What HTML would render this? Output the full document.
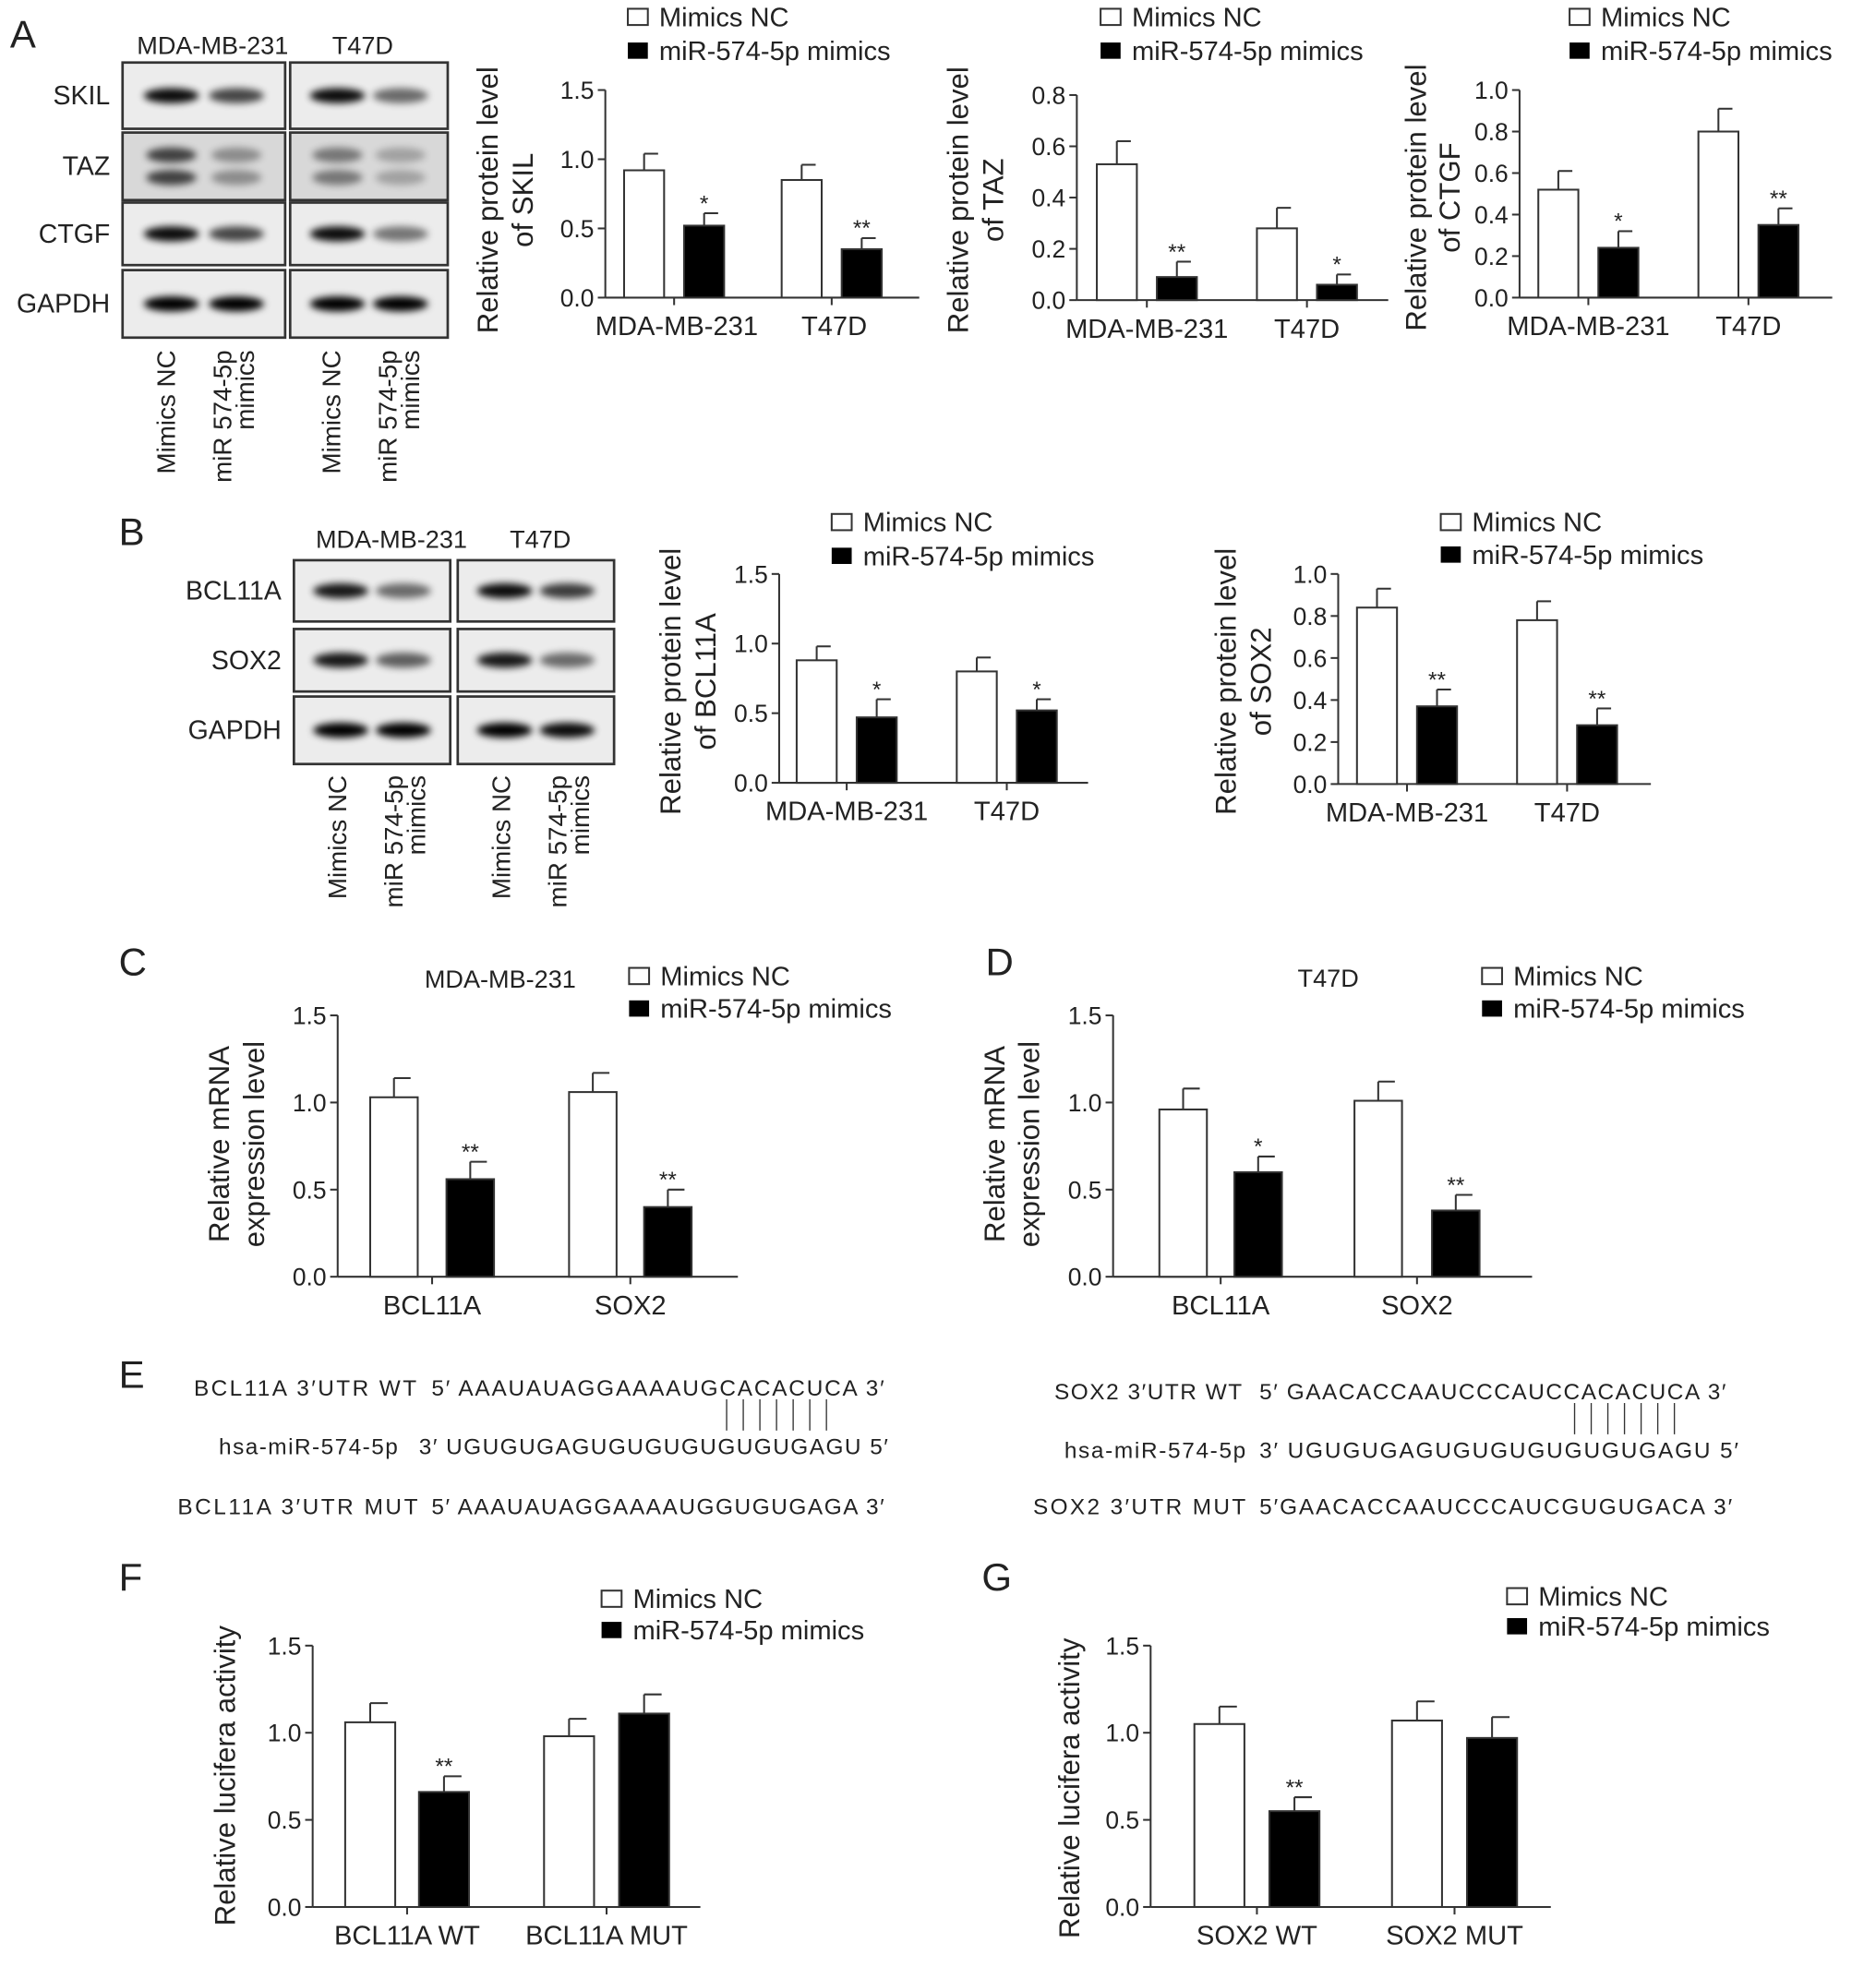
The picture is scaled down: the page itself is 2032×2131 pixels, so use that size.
<!DOCTYPE html>
<html><head><meta charset="utf-8"><style>
html,body{margin:0;padding:0;background:#fff}
svg{display:block}
text{font-family:"Liberation Sans",Arial,sans-serif;fill:#222}
</style></head><body>
<svg id="fig" width="2032" height="2131" viewBox="0 0 1500 1573" preserveAspectRatio="none" xmlns="http://www.w3.org/2000/svg">
<defs><filter id="blur" x="-30%" y="-60%" width="160%" height="220%"><feGaussianBlur stdDeviation="3"/></filter></defs>
</svg>
<script>
// ---- chart data ----
const skilCats = ["MDA-MB-231","T47D"];
const skilNC = [0.92,0.85];
const skilNCErr = [0.12,0.11];
const skilMim = [0.52,0.35];
const skilMimErr = [0.09,0.08];
const skilStars = ["*","**"];
const skilTicks = ["0.0","0.5","1.0","1.5"];

const tazNC = [0.53,0.28];
const tazNCErr = [0.09,0.08];
const tazMim = [0.09,0.06];
const tazMimErr = [0.06,0.04];
const tazStars = ["**","*"];
const tazTicks = ["0.0","0.2","0.4","0.6","0.8"];

const ctgfNC = [0.52,0.80];
const ctgfNCErr = [0.09,0.11];
const ctgfMim = [0.24,0.35];
const ctgfMimErr = [0.08,0.08];
const ctgfStars = ["*","**"];
const ctgfTicks = ["0.0","0.2","0.4","0.6","0.8","1.0"];

const bclNC = [0.88,0.80];
const bclNCErr = [0.10,0.10];
const bclMim = [0.47,0.52];
const bclMimErr = [0.13,0.08];
const bclStars = ["*","*"];

const soxNC = [0.84,0.78];
const soxNCErr = [0.09,0.09];
const soxMim = [0.37,0.28];
const soxMimErr = [0.08,0.08];
const soxStars = ["**","**"];

const mrnaCats = ["BCL11A","SOX2"];
const mdaNC = [1.03,1.06];
const mdaNCErr = [0.11,0.11];
const mdaMim = [0.56,0.40];
const mdaMimErr = [0.10,0.10];
const mdaStars = ["**","**"];

const t47NC = [0.96,1.01];
const t47NCErr = [0.12,0.11];
const t47Mim = [0.60,0.38];
const t47MimErr = [0.09,0.09];
const t47Stars = ["*","**"];

const lucBclCats = ["BCL11A WT","BCL11A MUT"];
const lucBclNC = [1.06,0.98];
const lucBclNCErr = [0.11,0.10];
const lucBclMim = [0.66,1.11];
const lucBclMimErr = [0.09,0.11];
const lucBclStars = ["**",""];

const lucSoxCats = ["SOX2 WT","SOX2 MUT"];
const lucSoxNC = [1.05,1.07];
const lucSoxNCErr = [0.10,0.11];
const lucSoxMim = [0.55,0.97];
const lucSoxMimErr = [0.08,0.12];
const lucSoxStars = ["**",""];

const t15 = ["0.0","0.5","1.0","1.5"];

const NS="http://www.w3.org/2000/svg";
const svg=document.getElementById('fig');
function mk(tag,attrs,parent,txt){const e=document.createElementNS(NS,tag);for(const k in attrs)e.setAttribute(k,attrs[k]);if(txt!==undefined)e.textContent=txt;(parent||svg).appendChild(e);return e;}
function T(x,y,s,size,name,anchor,extra){const e=mk('text',Object.assign({x:x,y:y,'font-size':size,'text-anchor':anchor||'start'},extra||{}),null,s);

return e;}

function chart(o){
  const g=mk('g',{});
  
  
  const ymax=parseFloat(o.ticks[o.ticks.length-1]);
  const Y=v=>o.y0-(v/ymax)*(o.y0-o.ytop);
  const ya=mk('line',{x1:o.ax,y1:o.ytop,x2:o.ax,y2:o.y0,stroke:'#333','stroke-width':1.5},g);
  
  
  const xa=mk('line',{x1:o.ax,y1:o.y0,x2:o.xend,y2:o.y0,stroke:'#333','stroke-width':1.5},g);
  
  
  o.ticks.forEach(t=>{const y=Y(parseFloat(t));
    mk('line',{x1:o.ax-6,y1:y,x2:o.ax,y2:y,stroke:'#333','stroke-width':1.5},g);
    const tl=mk('text',{x:o.ax-9,y:y+7,'font-size':19.5,'text-anchor':'end'},g,t);
    
    
  });
  for(let i=0;i<2;i++){
    const wx=o.wx[i], bx=o.bx[i], w=o.bw;
    const grp=[[wx,o.nc[i],o.ncErr[i],'#fff','bar-nc'],[bx,o.mim[i],o.mimErr[i],'#000','bar-mimics']];
    grp.forEach(([x,v,e,fill,nm])=>{
      const top=Y(v), et=Y(v+e), cx=x+w/2;
      mk('line',{x1:cx,y1:top,x2:cx,y2:et,stroke:'#333','stroke-width':1.5},g);
      mk('line',{x1:cx,y1:et,x2:cx+w*0.35,y2:et,stroke:'#333','stroke-width':1.5},g);
      const r=mk('rect',{x:x,y:top,width:w,height:o.y0-top,fill:fill,stroke:'#333','stroke-width':1.5},g);
      
      
    });
    const cx=(wx+bx+o.bw)/2;
    mk('line',{x1:cx,y1:o.y0,x2:cx,y2:o.y0+6,stroke:'#333','stroke-width':1.5},g);
    const xl=mk('text',{x:cx+(o.xlOff||0),y:o.y0+30,'font-size':21.5,'text-anchor':'middle'},g,o.cats[i]);
    
    
    if(o.stars[i]){const st=mk('text',{x:bx+o.bw/2,y:Y(o.mim[i]+o.mimErr[i])-2,'font-size':18,'text-anchor':'middle'},g,o.stars[i]);
      
      }
  }
  o.title.forEach((s,k)=>{const tt=mk('text',{transform:`translate(${o.tx[k]},${o.ty}) rotate(-90)`,'font-size':23,'text-anchor':'middle'},g,s);
    
    });
  const lg=mk('g',{},g);
  
  
  const r1=mk('rect',{x:o.lx,y:o.ly-12,width:16,height:13,fill:'#fff',stroke:'#333','stroke-width':1.5},lg);
  
  
  const t1=mk('text',{x:o.lx+25,y:o.ly+2,'font-size':21.5},lg,'Mimics NC');
  
  
  const r2=mk('rect',{x:o.lx,y:o.ly+o.lgap-12,width:16,height:13,fill:'#000'},lg);
  
  
  const t2=mk('text',{x:o.lx+25,y:o.ly+o.lgap+2,'font-size':21.5},lg,'miR-574-5p mimics');
  
  
}

chart({name:'chart-skil',ax:484,y0:238,ytop:72,xend:735,ticks:skilTicks,bw:32,wx:[499,625],bx:[547,673],nc:skilNC,ncErr:skilNCErr,mim:skilMim,mimErr:skilMimErr,stars:skilStars,cats:skilCats,title:['Relative protein level','of SKIL'],tx:[398,426],ty:160,lx:502,ly:19,lgap:27,xlOff:2});
chart({name:'chart-taz',ax:861,y0:240,ytop:76,xend:1110,ticks:tazTicks,bw:32,wx:[877,1005],bx:[925,1053],nc:tazNC,ncErr:tazNCErr,mim:tazMim,mimErr:tazMimErr,stars:tazStars,cats:skilCats,title:['Relative protein level','of TAZ'],tx:[774,802],ty:160,lx:880,ly:19,lgap:27});
chart({name:'chart-ctgf',ax:1215,y0:238,ytop:72,xend:1465,ticks:ctgfTicks,bw:32,wx:[1230,1358],bx:[1278,1406],nc:ctgfNC,ncErr:ctgfNCErr,mim:ctgfMim,mimErr:ctgfMimErr,stars:ctgfStars,cats:skilCats,title:['Relative protein level','of CTGF'],tx:[1140,1167],ty:158,lx:1255,ly:19,lgap:27});
chart({name:'chart-bcl11a-protein',ax:623,y0:626,ytop:459,xend:870,ticks:skilTicks,bw:32,wx:[637,765],bx:[685,813],nc:bclNC,ncErr:bclNCErr,mim:bclMim,mimErr:bclMimErr,stars:bclStars,cats:skilCats,title:['Relative protein level','of BCL11A'],tx:[544,572],ty:545,lx:665,ly:423,lgap:27});
chart({name:'chart-sox2-protein',ax:1070,y0:627,ytop:459,xend:1320,ticks:ctgfTicks,bw:32,wx:[1085,1213],bx:[1133,1261],nc:soxNC,ncErr:soxNCErr,mim:soxMim,mimErr:soxMimErr,stars:soxStars,cats:skilCats,title:['Relative protein level','of SOX2'],tx:[988,1016],ty:545,lx:1152,ly:423,lgap:26});
chart({name:'chart-mrna-mda',ax:270,y0:1021,ytop:812,xend:590,ticks:t15,bw:38,wx:[296,455],bx:[357,515],nc:mdaNC,ncErr:mdaNCErr,mim:mdaMim,mimErr:mdaMimErr,stars:mdaStars,cats:mrnaCats,title:['Relative mRNA','expression level'],tx:[183,211],ty:915,lx:503,ly:786,lgap:26});
chart({name:'chart-mrna-t47d',ax:890,y0:1021,ytop:812,xend:1225,ticks:t15,bw:38,wx:[927,1083],bx:[987,1145],nc:t47NC,ncErr:t47NCErr,mim:t47Mim,mimErr:t47MimErr,stars:t47Stars,cats:mrnaCats,title:['Relative mRNA','expression level'],tx:[803,831],ty:915,lx:1185,ly:786,lgap:26});
chart({name:'chart-luciferase-bcl11a',ax:250,y0:1525,ytop:1316,xend:560,ticks:t15,bw:40,wx:[276,435],bx:[335,495],nc:lucBclNC,ncErr:lucBclNCErr,mim:lucBclMim,mimErr:lucBclMimErr,stars:lucBclStars,cats:lucBclCats,title:['Relative lucifera activity'],tx:[188],ty:1420,lx:481,ly:1284,lgap:25});
chart({name:'chart-luciferase-sox2',ax:920,y0:1525,ytop:1316,xend:1240,ticks:t15,bw:40,wx:[955,1113],bx:[1015,1173],nc:lucSoxNC,ncErr:lucSoxNCErr,mim:lucSoxMim,mimErr:lucSoxMimErr,stars:lucSoxStars,cats:lucSoxCats,title:['Relative lucifera activity'],tx:[863],ty:1430,lx:1205,ly:1282,lgap:24});

T(400,790,'MDA-MB-231',20,'chart-title-mda','middle');
T(1062,789,'T47D',20,'chart-title-t47d','middle');

[['A',8,38],['B',95,436],['C',95,780],['D',788,780],['E',95,1110],['F',95,1272],['G',785,1272]].forEach(([l,x,y])=>T(x,y,l,31,'panel-label-'+l.toLowerCase()));

function blot(name,boxes,rows,labels,lx,bands,dbl){
  const g=mk('g',{});
  
  
  rows.forEach((r,ri)=>{
    boxes.forEach((b,bi)=>{
      mk('rect',{x:b[0],y:r[0],width:b[1]-b[0],height:r[1]-r[0],fill:ri==dbl?'#d8d8d8':'#ececec',stroke:'#333','stroke-width':2},g);
      const bd=bands[ri];
      [0,1].forEach(k=>{
        const cx=b[0]+(b[1]-b[0])*(k==0?0.3:0.7), cy=(r[0]+r[1])/2;
        const inten=bd[bi*2+k];
        if(ri==dbl){
          [cy-9,cy+9].forEach(yy=>mk('ellipse',{cx:cx,cy:yy,rx:20,ry:6,fill:'#000',opacity:inten,filter:'url(#blur)'},g));
        } else mk('ellipse',{cx:cx,cy:cy,rx:22,ry:6,fill:'#000',opacity:inten,filter:'url(#blur)'},g);
      });
    });
    const tl=mk('text',{x:lx,y:(r[0]+r[1])/2+7,'font-size':21,'text-anchor':'end'},g,labels[ri]);
    
    
  });
}
blot('western-blot-a',[[98,228],[232,358]],[[50,103],[106,160],[162,212],[216,270]],['SKIL','TAZ','CTGF','GAPDH'],88,
 [[0.95,0.7,0.95,0.55],[0.7,0.35,0.45,0.25],[0.95,0.7,0.95,0.5],[1,1,1,1]],1);
blot('western-blot-b',[[235,360],[366,491]],[[448,497],[503,553],[557,611]],['BCL11A','SOX2','GAPDH'],225,
 [[0.9,0.55,0.95,0.75],[0.9,0.6,0.9,0.55],[1,1,1,0.95]],-1);
T(170,43,'MDA-MB-231',20,'blot-header-mda','middle');
T(290,43,'T47D',20,'blot-header-t47d','middle');
T(313,438,'MDA-MB-231',20,'blot-header-mda','middle');
T(432,438,'T47D',20,'blot-header-t47d','middle');
function rot(x,y,s,name){const e=mk('text',{transform:`translate(${x},${y}) rotate(-90)`,'font-size':20.5,'text-anchor':'end'},null,s);
 
 }
[[140,280],[272,280]].forEach(([x,y])=>rot(x,y,'Mimics NC','lane-label-nc'));
[[185,280],[317,280]].forEach(([x,y])=>{rot(x,y,'miR 574-5p','lane-label-mimics');rot(x+18,y,'mimics','lane-label-mimics');});
[[277,620],[408,620]].forEach(([x,y])=>rot(x,y,'Mimics NC','lane-label-nc'));
[[322,620],[453,620]].forEach(([x,y])=>{rot(x,y,'miR 574-5p','lane-label-mimics');rot(x+18,y,'mimics','lane-label-mimics');});

T(155,1116,'BCL11A 3′UTR  WT',18,'seq-label','start',{textLength:178});
T(345,1116,'5′ AAAUAUAGGAAAAUGCACACUCA  3′',18,'seq-bcl11a-wt','start',{textLength:362});
T(175,1163,'hsa-miR-574-5p',18,'seq-label','start',{textLength:143});
T(335,1163,'3′ UGUGUGAGUGUGUGUGUGUGAGU  5′',18,'seq-mir-left','start',{textLength:375});
T(142,1211,'BCL11A 3′UTR  MUT',18,'seq-label','start',{textLength:192});
T(345,1211,'5′ AAAUAUAGGAAAAUGGUGUGAGA 3′',18,'seq-bcl11a-mut','start',{textLength:362});
T(843,1119,'SOX2 3′UTR WT',18,'seq-label','start',{textLength:150});
T(1007,1119,'5′  GAACACCAAUCCCAUCCACACUCA  3′',18,'seq-sox2-wt','start',{textLength:373});
T(851,1166,'hsa-miR-574-5p',18,'seq-label','start',{textLength:145});
T(1007,1166,'3′ UGUGUGAGUGUGUGUGUGUGAGU  5′',18,'seq-mir-right','start',{textLength:383});
T(826,1211,'SOX2  3′UTR  MUT',18,'seq-label','start',{textLength:170});
T(1007,1211,'5′GAACACCAAUCCCAUCGUGUGACA  3′',18,'seq-sox2-mut','start',{textLength:378});
for(let i=0;i<7;i++){
  mk('line',{x1:581+i*13.3,y1:1119,x2:581+i*13.3,y2:1144,stroke:'#333','stroke-width':1});
  mk('line',{x1:1259+i*13.3,y1:1122,x2:1259+i*13.3,y2:1147,stroke:'#333','stroke-width':1});
}
</script>
</body></html>
